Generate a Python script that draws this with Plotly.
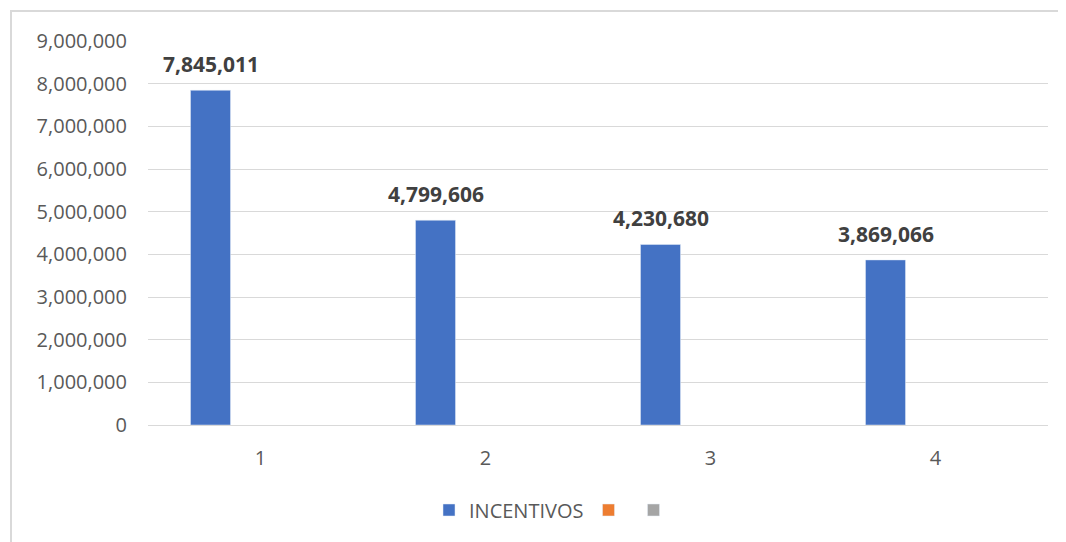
import plotly.graph_objects as go

categories = ["1", "2", "3", "4"]
incentivos = [7845011, 4799606, 4230680, 3869066]
serie2 = [None, None, None, None]
serie3 = [None, None, None, None]
y_ticks = [0, 1000000, 2000000, 3000000, 4000000, 5000000, 6000000, 7000000, 8000000, 9000000]

OFF = 8  # page body margin in the browser
W, H = 1066 - OFF, 542 - OFF
ML, MR, MT, MB = 148 - OFF, 18, 41 - OFF, 117
pw = W - ML - MR
ph = H - MT - MB

FONT = "Open Sans"
GRID = "#d9d9d9"
TXT = "#595959"

fig = go.Figure()
fig.add_trace(go.Bar(x=categories, y=incentivos, name="INCENTIVOS", marker_color="#4472C4"))
fig.add_trace(go.Bar(x=categories, y=serie2, name="", marker_color="#ED7D31"))
fig.add_trace(go.Bar(x=categories, y=serie3, name="", marker_color="#A5A5A5"))

for i, v in enumerate(incentivos):
    fig.add_annotation(x=i, y=v, text="<b>{:,}</b>".format(v), showarrow=False,
                       xanchor="center", yanchor="bottom", xshift=-50, yshift=10,
                       font=dict(family=FONT, size=21, color="#404040"))

def px_x(p):
    return (p - OFF - ML) / pw

def px_y(p):
    return (H - MB - (p - OFF)) / ph

fig.add_shape(type="rect", xref="paper", yref="paper",
              x0=px_x(11), x1=px_x(1080), y0=px_y(560), y1=px_y(11),
              line=dict(color=GRID, width=2), layer="below")

fig.update_layout(
    width=W, height=H,
    margin=dict(l=ML, r=MR, t=MT, b=MB),
    paper_bgcolor="white", plot_bgcolor="white",
    barmode="group", bargap=1/3, bargroupgap=0.2,
    font=dict(family=FONT, color=TXT),
    showlegend=True,
    legend=dict(orientation="h", x=px_x(429), xanchor="left", y=px_y(510), yanchor="middle",
                font=dict(family=FONT, size=20, color=TXT), itemwidth=30,
                traceorder="normal"),
    xaxis=dict(type="category", range=[-0.5, 3.5], showgrid=False, showline=True,
               linecolor=GRID, linewidth=1,
               ticks="outside", ticklen=15, tickcolor="rgba(0,0,0,0)",
               tickfont=dict(family=FONT, size=20, color=TXT), zeroline=False),
    yaxis=dict(range=[0, 9000000], tickvals=y_ticks, tickformat=",", showgrid=True,
               gridcolor=GRID, gridwidth=1, zeroline=False, showline=False,
               ticklabelstandoff=20,
               tickfont=dict(family=FONT, size=20, color=TXT)),
)

fig.write_html("out.html")
